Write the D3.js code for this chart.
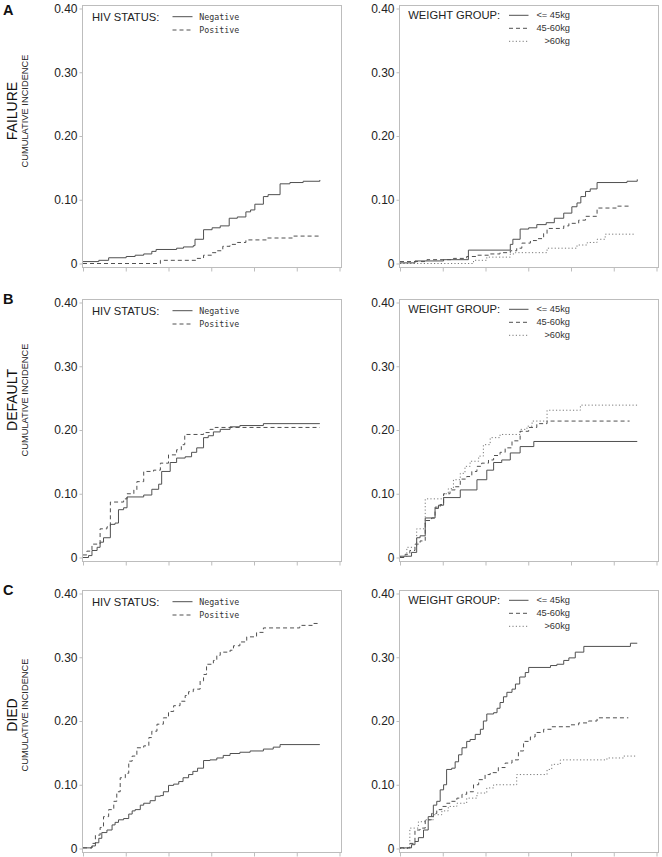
<!DOCTYPE html>
<html>
<head>
<meta charset="utf-8">
<script src="https://cdn.jsdelivr.net/npm/d3@7/dist/d3.min.js"></script>
<style>
  body { margin: 0; background: #fff; }
</style>
</head>
<body>
<script>
// time on x is in tick units (0..6), y is cumulative incidence
// each series: [time, level from that time on]

// A - failure
var failureHivNeg = [[0,0.003],[0.37,0.005],[0.60,0.009],[1.01,0.011],[1.22,0.013],[1.42,0.015],[1.61,0.019],[1.71,0.022],[2.19,0.024],[2.35,0.026],[2.58,0.028],[2.62,0.038],[2.82,0.053],[3.02,0.056],[3.21,0.059],[3.42,0.071],[3.61,0.073],[3.81,0.081],[3.92,0.084],[4.02,0.093],[4.22,0.105],[4.33,0.108],[4.61,0.125],[4.84,0.127],[5.15,0.129],[5.54,0.131]];
var failureHivPos = [[0,0],[1.81,0.005],[2.66,0.008],[2.82,0.013],[3.01,0.017],[3.13,0.020],[3.27,0.027],[3.44,0.030],[3.61,0.033],[3.81,0.037],[4.30,0.040],[4.92,0.043],[5.54,0.043]];
var failureWtLow = [[0,0.001],[0.35,0.004],[1.02,0.006],[1.60,0.021],[2.58,0.030],[2.64,0.038],[2.81,0.054],[3.01,0.056],[3.20,0.061],[3.42,0.064],[3.61,0.071],[3.83,0.079],[4.02,0.089],[4.14,0.095],[4.23,0.105],[4.34,0.113],[4.45,0.117],[4.61,0.127],[5.31,0.129],[5.55,0.132]];
var failureWtMid = [[0,0.003],[0.63,0.006],[1.25,0.008],[1.56,0.011],[1.80,0.013],[2.11,0.015],[2.34,0.017],[2.58,0.020],[2.73,0.024],[2.85,0.032],[3.05,0.036],[3.20,0.039],[3.36,0.047],[3.44,0.055],[3.83,0.059],[3.95,0.063],[4.18,0.068],[4.34,0.074],[4.61,0.087],[5.08,0.090],[5.37,0.090]];
var failureWtHigh = [[0,0],[1.72,0.005],[2.03,0.010],[2.58,0.015],[2.70,0.017],[3.44,0.024],[4.14,0.029],[4.38,0.033],[4.61,0.038],[4.80,0.046],[5.51,0.046]];

// B - default
var defaultHivNeg = [[0,0],[0.13,0.003],[0.21,0.011],[0.33,0.016],[0.40,0.024],[0.48,0.031],[0.64,0.052],[0.75,0.054],[0.83,0.075],[0.95,0.078],[1.03,0.095],[1.42,0.098],[1.61,0.107],[1.77,0.115],[1.84,0.135],[2.04,0.149],[2.19,0.156],[2.39,0.158],[2.54,0.165],[2.66,0.172],[2.82,0.188],[2.93,0.191],[3.05,0.197],[3.21,0.201],[3.44,0.205],[3.67,0.207],[4.22,0.210],[5.54,0.210]];
var defaultHivPos = [[0,0.004],[0.09,0.010],[0.21,0.021],[0.40,0.045],[0.56,0.048],[0.64,0.087],[0.95,0.092],[1.03,0.100],[1.19,0.106],[1.26,0.119],[1.42,0.135],[1.65,0.137],[1.81,0.148],[2.00,0.161],[2.19,0.169],[2.30,0.177],[2.38,0.193],[2.82,0.196],[2.97,0.201],[3.09,0.204],[5.54,0.204]];
var defaultWtLow = [[0,0.002],[0.27,0.008],[0.39,0.031],[0.47,0.034],[0.59,0.062],[0.82,0.077],[0.90,0.082],[1.02,0.094],[1.41,0.106],[1.80,0.122],[2.03,0.137],[2.19,0.149],[2.38,0.153],[2.58,0.164],[2.81,0.174],[3.13,0.182],[5.55,0.182]];
var defaultWtMid = [[0,0],[0.12,0.005],[0.23,0.011],[0.35,0.021],[0.47,0.026],[0.59,0.058],[0.74,0.062],[0.82,0.079],[0.94,0.083],[1.02,0.100],[1.17,0.106],[1.29,0.111],[1.41,0.123],[1.56,0.127],[1.68,0.135],[1.80,0.143],[1.91,0.148],[2.07,0.153],[2.19,0.160],[2.34,0.165],[2.46,0.172],[2.62,0.183],[2.81,0.198],[3.01,0.204],[3.20,0.210],[3.44,0.214],[5.37,0.214]];
var defaultWtHigh = [[0,0.001],[0.16,0.016],[0.39,0.045],[0.59,0.092],[1.02,0.100],[1.13,0.108],[1.25,0.122],[1.41,0.132],[1.52,0.143],[1.64,0.151],[1.84,0.159],[1.95,0.177],[2.11,0.188],[2.34,0.193],[2.81,0.201],[2.97,0.206],[3.09,0.214],[3.44,0.231],[4.22,0.239],[5.55,0.239]];

// C - died
var diedHivNeg = [[0,0.001],[0.21,0.004],[0.29,0.009],[0.37,0.016],[0.44,0.025],[0.56,0.029],[0.68,0.037],[0.75,0.041],[0.83,0.045],[0.95,0.047],[1.07,0.054],[1.15,0.059],[1.22,0.061],[1.34,0.068],[1.42,0.071],[1.57,0.075],[1.69,0.082],[1.81,0.083],[1.88,0.089],[2.00,0.099],[2.12,0.101],[2.24,0.105],[2.34,0.111],[2.47,0.116],[2.57,0.121],[2.68,0.126],[2.82,0.138],[2.97,0.139],[3.13,0.142],[3.28,0.146],[3.44,0.149],[3.67,0.151],[3.91,0.153],[4.22,0.156],[4.45,0.159],[4.61,0.163],[5.54,0.163]];
var diedHivPos = [[0,0.001],[0.21,0.008],[0.29,0.021],[0.40,0.033],[0.48,0.050],[0.60,0.061],[0.72,0.074],[0.79,0.089],[0.87,0.111],[0.99,0.118],[1.07,0.137],[1.15,0.145],[1.26,0.158],[1.42,0.161],[1.54,0.174],[1.61,0.184],[1.73,0.195],[1.88,0.205],[2.00,0.215],[2.12,0.224],[2.27,0.231],[2.39,0.240],[2.47,0.246],[2.58,0.250],[2.74,0.263],[2.82,0.273],[2.89,0.289],[3.05,0.295],[3.13,0.303],[3.21,0.308],[3.44,0.311],[3.52,0.318],[3.67,0.324],[3.83,0.332],[4.06,0.339],[4.22,0.346],[5.07,0.350],[5.39,0.353],[5.54,0.354]];
var diedWtLow = [[0,0.001],[0.27,0.006],[0.35,0.011],[0.43,0.017],[0.55,0.029],[0.66,0.050],[0.78,0.068],[0.86,0.074],[0.94,0.092],[1.02,0.100],[1.09,0.124],[1.21,0.126],[1.29,0.136],[1.37,0.147],[1.45,0.158],[1.56,0.168],[1.64,0.171],[1.76,0.179],[1.88,0.187],[1.95,0.200],[2.03,0.211],[2.19,0.213],[2.27,0.220],[2.34,0.229],[2.42,0.238],[2.50,0.245],[2.62,0.250],[2.70,0.258],[2.80,0.269],[2.93,0.276],[3.01,0.284],[3.52,0.287],[3.67,0.289],[3.83,0.295],[3.95,0.299],[4.10,0.308],[4.30,0.317],[5.39,0.322],[5.55,0.322]];
var diedWtMid = [[0,0.001],[0.23,0.008],[0.35,0.029],[0.47,0.032],[0.59,0.045],[0.74,0.055],[0.86,0.061],[0.98,0.066],[1.09,0.071],[1.17,0.074],[1.33,0.079],[1.45,0.085],[1.56,0.089],[1.72,0.100],[1.84,0.108],[1.99,0.116],[2.11,0.119],[2.30,0.127],[2.46,0.134],[2.62,0.139],[2.77,0.153],[2.89,0.168],[3.05,0.175],[3.16,0.182],[3.36,0.187],[3.55,0.191],[3.98,0.194],[4.18,0.197],[4.41,0.200],[4.61,0.205],[5.34,0.205]];
var diedWtHigh = [[0,0],[0.23,0.032],[0.43,0.042],[0.59,0.045],[0.78,0.053],[0.98,0.059],[1.13,0.066],[1.33,0.071],[1.56,0.079],[1.80,0.087],[2.03,0.095],[2.19,0.100],[2.73,0.116],[3.44,0.124],[3.55,0.132],[3.75,0.139],[4.84,0.142],[5.23,0.145],[5.51,0.145]];

var rowLetters = ["A", "B", "C"];
var rowNames = ["FAILURE", "DEFAULT", "DIED"];
var hivNames = ["Negative", "Positive"];
var weightNames = ["<= 45kg", "45-60kg", ">60kg"];
var yTicks = [0, 0.1, 0.2, 0.3, 0.4];
var xTicks = [0, 1, 2, 3, 4, 5, 6];

var rows = [
    [[failureHivNeg, failureHivPos], [failureWtLow, failureWtMid, failureWtHigh]],
    [[defaultHivNeg, defaultHivPos], [defaultWtLow, defaultWtMid, defaultWtHigh]],
    [[diedHivNeg, diedHivPos], [diedWtLow, diedWtMid, diedWtHigh]]
];

// layout
var w = 662, h = 857;
var colX = [82, 399];
var rowY = [5, 299, 590];
var frameW = 259, frameH = 262, pad = 3.5;
var letterY = [15, 303.5, 594.5];
var labelY = [111, 400, 715];
var sans = "'Liberation Sans', Arial, sans-serif";
var mono = "'DejaVu Sans Mono', monospace";

var lineStyles = [
    {dash: null, color: "#505050"},
    {dash: "4,3", color: "#505050"},
    {dash: "1.2,2.2", color: "#7a7a7a"}
];

var svg = d3.select("body")
    .append("svg")
    .attr("width", w)
    .attr("height", h)
    .style("font-family", sans);

rows.forEach(function(rowSeries, r) {
    var top = rowY[r];

    svg.append("text")
        .attr("x", 3)
        .attr("y", letterY[r])
        .attr("font-size", "14.5px")
        .attr("font-weight", "bold")
        .attr("fill", "#111")
        .text(rowLetters[r]);

    svg.append("text")
        .attr("transform", "translate(17," + labelY[r] + ") rotate(-90)")
        .attr("text-anchor", "middle")
        .attr("font-size", "14px")
        .attr("fill", "#111")
        .text(rowNames[r]);

    svg.append("text")
        .attr("transform", "translate(27.5," + labelY[r] + ") rotate(-90)")
        .attr("text-anchor", "middle")
        .attr("font-size", "9.3px")
        .attr("fill", "#222")
        .text("CUMULATIVE INCIDENCE");

    rowSeries.forEach(function(series, c) {
        var x0 = colX[c];

        var xScale = d3.scaleLinear()
            .domain([0, 6])
            .range([x0 + 1, x0 + frameW - 1.5]);

        var yScale = d3.scaleLinear()
            .domain([0, 0.4])
            .range([top + frameH - pad, top + pad]);

        var g = svg.append("g");

        g.append("rect")
            .attr("x", x0 + 0.5)
            .attr("y", top + 0.5)
            .attr("width", frameW)
            .attr("height", frameH)
            .attr("fill", "none")
            .attr("stroke", "#bdbdbd");

        var yAxis = d3.axisLeft(yScale)
            .tickValues(yTicks)
            .tickSize(3)
            .tickPadding(2)
            .tickFormat(function(d) { return d === 0 ? "0" : d3.format(".2f")(d); });

        var ya = g.append("g")
            .attr("transform", "translate(" + (x0 + 0.5) + ",0)")
            .call(yAxis)
            .attr("font-family", sans)
            .attr("font-size", "12px");
        ya.select(".domain").remove();
        ya.selectAll("line").attr("stroke", "#bdbdbd");
        ya.selectAll("text").attr("fill", "#222");

        var xAxis = d3.axisBottom(xScale)
            .tickValues(xTicks)
            .tickSize(4)
            .tickFormat("");

        var xa = g.append("g")
            .attr("transform", "translate(0," + (top + frameH + 0.5) + ")")
            .call(xAxis);
        xa.select(".domain").remove();
        xa.selectAll("line").attr("stroke", "#bdbdbd");

        var line = d3.line()
            .x(function(d) { return xScale(d[0]); })
            .y(function(d) { return yScale(d[1]); })
            .curve(d3.curveStepAfter);

        // draw last series first so the solid line sits on top
        series.slice().reverse().forEach(function(s, k) {
            var i = series.length - 1 - k;
            g.append("path")
                .datum(s)
                .attr("d", line)
                .attr("fill", "none")
                .attr("stroke", lineStyles[i].color)
                .attr("stroke-width", 1)
                .attr("stroke-dasharray", lineStyles[i].dash);
        });

        // legend
        var isHiv = c === 0;
        var names = isHiv ? hivNames : weightNames;
        var legY = isHiv ? [top + 11.7, top + 25] : [top + 10.3, top + 23.3, top + 36.3];
        var lineX = isHiv ? [x0 + 90.5, x0 + 110.5] : [x0 + 110, x0 + 129.5];

        g.append("text")
            .attr("x", x0 + (isHiv ? 10 : 9.3))
            .attr("y", legY[0] + 4)
            .attr("font-size", "11.2px")
            .attr("fill", "#222")
            .text(isHiv ? "HIV STATUS:" : "WEIGHT GROUP:");

        names.forEach(function(name, i) {
            g.append("line")
                .attr("x1", lineX[0])
                .attr("x2", lineX[1])
                .attr("y1", legY[i])
                .attr("y2", legY[i])
                .attr("stroke", lineStyles[i].color)
                .attr("stroke-dasharray", lineStyles[i].dash);

            var t = g.append("text")
                .attr("y", legY[i] + 3)
                .attr("fill", "#333")
                .text(name);
            if (isHiv) {
                t.attr("x", x0 + 117.3)
                    .style("font-family", mono)
                    .attr("font-size", "8.3px");
            } else {
                t.attr("x", x0 + 171)
                    .attr("text-anchor", "end")
                    .attr("font-size", "9.3px");
            }
        });
    });
});
</script>
</body>
</html>
